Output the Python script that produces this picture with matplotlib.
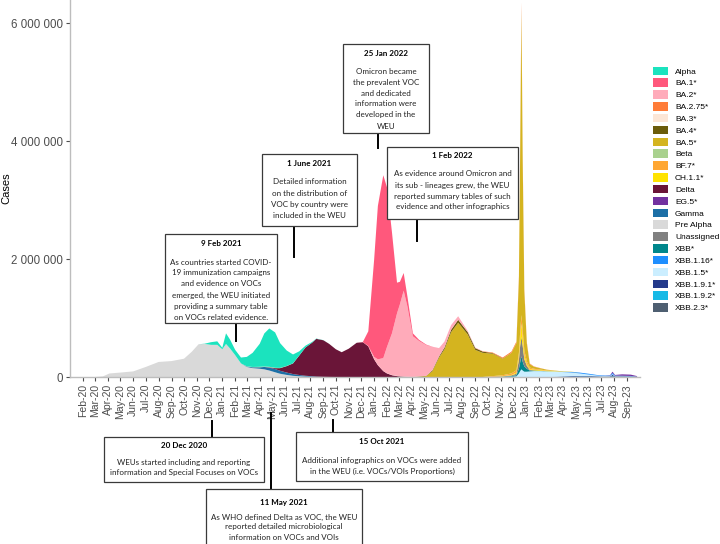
import datetime as dt
import matplotlib
matplotlib.use("Agg")
import matplotlib.pyplot as plt
import matplotlib.dates as mdates
from matplotlib.patches import Rectangle, Patch
from matplotlib.lines import Line2D
from matplotlib.ticker import FuncFormatter

# dates of the read-off points (irregular, denser around the peaks)
dates = [
    "2020-02-01", "2020-03-01", "2020-03-20", "2020-04-05", "2020-05-01", "2020-06-01",
    "2020-07-01", "2020-08-01", "2020-09-01", "2020-10-01", "2020-10-20", "2020-11-05",
    "2020-11-20", "2020-12-05", "2020-12-20",
    "2021-01-01", "2021-01-10", "2021-01-20", "2021-02-01", "2021-02-15", "2021-03-01",
    "2021-03-15", "2021-04-01", "2021-04-12", "2021-04-24", "2021-05-08", "2021-05-20",
    "2021-06-05", "2021-06-20", "2021-07-05", "2021-07-20", "2021-08-05", "2021-08-15",
    "2021-09-01", "2021-09-15", "2021-10-01", "2021-10-15", "2021-11-01", "2021-11-20",
    "2021-12-05", "2021-12-18",
    "2022-01-01", "2022-01-10", "2022-01-23", "2022-02-01", "2022-02-13", "2022-02-25",
    "2022-03-04", "2022-03-13", "2022-03-22", "2022-04-04", "2022-04-19", "2022-05-06",
    "2022-05-21", "2022-06-06", "2022-06-19", "2022-07-05", "2022-07-22", "2022-08-14",
    "2022-09-01", "2022-09-19", "2022-10-13", "2022-11-06", "2022-11-27", "2022-12-09",
    "2022-12-15", "2022-12-18", "2022-12-21", "2022-12-24", "2022-12-28",
    "2023-01-03", "2023-01-10", "2023-01-20", "2023-02-05", "2023-02-20", "2023-03-10",
    "2023-04-01", "2023-04-20", "2023-05-10", "2023-06-01", "2023-06-20", "2023-07-10",
    "2023-07-22", "2023-07-28", "2023-08-03", "2023-08-20", "2023-09-10", "2023-09-25",
]

# cases per variant, thousands
pre_alpha = [0, 0, 10, 60, 75, 95, 170, 255, 270, 310, 430, 555, 560, 545, 545, 470, 560,
             480, 370, 230, 170, 150, 140, 130, 110, 80, 55, 35, 20, 12, 6, 3, 1] + [0] * 55
alpha = [0] * 12 + [5, 45, 60, 25, 180, 150, 90, 100, 160, 240, 390, 560, 650, 600, 420,
                    260, 150, 70, 30, 12, 5, 2] + [0] * 54
gamma = [0] * 20 + [8, 15, 25, 40, 50, 55, 50, 40, 30, 22, 15, 10, 6, 3, 1] + [0] * 53
beta = [0] * 20 + [3, 5, 8, 8, 8, 6, 4, 3, 2, 1] + [0] * 58
delta = [0] * 24 + [5, 15, 45, 110, 180, 330, 480, 570, 640, 620, 560, 470, 420, 480, 580,
                    590, 520, 300, 200, 100, 60, 30, 15, 10, 5, 2] + [0] * 38
ba1 = [0] * 39 + [5, 250, 1650, 2600, 3100, 2700, 1700, 520, 380, 300, 170, 50, 20, 10,
                  3] + [0] * 34
ba2 = [0] * 40 + [5, 40, 100, 220, 450, 710, 1060, 1220, 1455, 1190, 690, 600, 520, 395,
                  140, 100, 80, 60, 20, 10, 3] + [0] * 27
ba3 = [0] * 44 + [2, 3, 4, 4, 3, 2, 1] + [0] * 37
ba4 = [0] * 51 + [5, 5, 15, 20, 30, 40, 50, 40, 30, 20, 10, 5] + [0] * 25
ba5 = [0] * 51 + [5, 15, 100, 330, 470, 760, 920, 720, 460, 410, 380, 280, 350, 460, 1250,
                  3060, 5170, 2900, 1000, 300, 60, 35, 22, 12, 6, 3, 2] + [0] * 10
ba275 = [0] * 60 + [5, 10, 15, 20, 25, 50, 100, 130, 100, 40, 20, 10, 5, 3, 1] + [0] * 13
bf7 = [0] * 61 + [10, 15, 25, 40, 60, 100, 150, 120, 80, 50, 25, 15, 10, 6, 3] + [0] * 12
ch11 = [0] * 62 + [5, 8, 20, 60, 140, 220, 150, 70, 30, 15, 12, 10, 8, 6, 4, 2] + [0] * 10
unassigned = [0] * 61 + [5, 5, 12, 25, 150, 280, 330, 270, 120, 50, 10, 5] + [0] * 15
xbb = [0] * 62 + [5, 10, 20, 80, 150, 220, 150, 90, 50, 15, 8, 5, 3] + [0] * 13
xbb15 = [0] * 63 + [5, 10, 60, 100, 130, 110, 90, 90, 95, 100, 100, 95, 90, 72, 60, 42, 22,
                    12, 7, 6, 12, 4, 3, 2, 1]
xbb116 = [0] * 75 + [2, 5, 10, 14, 14, 10, 8, 8, 22, 8, 7, 6, 2]
xbb191 = [0] * 75 + [3, 7, 10, 10, 10, 7, 5, 6, 18, 6, 5, 4, 2]
xbb192 = [0] * 76 + [4, 6, 6, 5, 3, 2, 2, 6, 2, 2, 2, 0]
xbb23 = [0] * 78 + [3, 4, 3, 2, 3, 12, 5, 5, 4, 2]
eg5 = [0] * 81 + [1, 5, 20, 10, 23, 22, 8]

# legend order (top of stack first)
variants = ["Alpha", "BA.1*", "BA.2*", "BA.2.75*", "BA.3*", "BA.4*", "BA.5*", "Beta", "BF.7*",
            "CH.1.1*", "Delta", "EG.5*", "Gamma", "Pre Alpha", "Unassigned", "XBB*",
            "XBB.1.16*", "XBB.1.5*", "XBB.1.9.1*", "XBB.1.9.2*", "XBB.2.3*"]
series = [alpha, ba1, ba2, ba275, ba3, ba4, ba5, beta, bf7, ch11, delta, eg5, gamma,
          pre_alpha, unassigned, xbb, xbb116, xbb15, xbb191, xbb192, xbb23]
colors = ["#1BE3BE", "#FF587C", "#FFABBA", "#FF7C38", "#FCE6D6", "#6B5C0B", "#D4B41F",
          "#A9D18E", "#FFA733", "#FFE300", "#6A1538", "#7231A0", "#1C6FA6", "#D9D9D9",
          "#808080", "#00878C", "#1E8FFF", "#CBEEFF", "#243A8B", "#17B9E6", "#4E5F71"]

x = [dt.datetime.strptime(d, "%Y-%m-%d") for d in dates]

fig = plt.figure(figsize=(7.2, 5.44), dpi=100)
ax = fig.add_axes([70 / 720, 1 - 377 / 544, (640 - 70) / 720, 377 / 544])

ax.stackplot(x, [[v * 1000 for v in s] for s in series[::-1]], colors=colors[::-1],
             linewidth=0, antialiased=True)

ax.set_xlim(dt.datetime(2020, 1, 1), dt.datetime(2023, 10, 2))
ax.set_ylim(0, 6.39e6)

ax.set_yticks([0, 2e6, 4e6, 6e6])
ax.yaxis.set_major_formatter(FuncFormatter(lambda v, p: f"{int(v):,}".replace(",", " ")))
month_ticks = [dt.datetime(2020 + (1 + i) // 12, (1 + i) % 12 + 1, 1) for i in range(44)]
ax.set_xticks(month_ticks)
ax.xaxis.set_major_formatter(mdates.DateFormatter("%b-%y"))

for lab in ax.get_xticklabels():
    lab.set_rotation(90)
ax.tick_params(axis="x", labelsize=7.5, colors="#4D4D4D", length=3, width=0.8, pad=2)
ax.tick_params(axis="y", labelsize=8.3, colors="#4D4D4D", length=3, width=0.8, pad=2)
for lab in ax.get_xticklabels() + ax.get_yticklabels():
    lab.set_fontfamily("Liberation Sans")

for side in ["top", "right"]:
    ax.spines[side].set_visible(False)
for side in ["left", "bottom"]:
    ax.spines[side].set_color("#BDBDBD")
    ax.spines[side].set_linewidth(1.0)

fig.text(6 / 720, 1 - 188 / 544, "Cases", rotation=90, ha="center", va="center",
         fontsize=8, family="Liberation Sans")

handles = [Patch(facecolor=c, edgecolor="none") for c in colors]
fig.legend(handles, variants, loc="upper left", bbox_to_anchor=(650 / 720, 1 - 64 / 544),
           frameon=False, handlelength=1.9, handleheight=1.2, labelspacing=0.33,
           handletextpad=0.8, borderaxespad=0, borderpad=0.3,
           prop={"family": "Liberation Sans", "size": 6})


def px(xp, yp):
    return xp / 720, 1 - yp / 544


def note(box, title, title_y, body, first_y, step=11):
    x0, y0, x1, y1 = box
    fig.add_artist(Rectangle(px(x0, y1), (x1 - x0) / 720, (y1 - y0) / 544,
                             transform=fig.transFigure, facecolor="white",
                             edgecolor="#3A3A3A", linewidth=0.9, zorder=5))
    cx = (x0 + x1) / 2
    fig.text(*px(cx, title_y), title, ha="center", va="center", fontsize=5.8,
             weight="bold", family="Lato", zorder=6)
    for i, line in enumerate(body.split("\n")):
        fig.text(*px(cx, first_y + i * step), line, ha="center", va="center",
                 fontsize=5.8, family="Lato", color="#222222", zorder=6)


def stick(xp, ya, yb):
    fig.add_artist(Line2D([xp / 720, xp / 720], [1 - ya / 544, 1 - yb / 544],
                          transform=fig.transFigure, color="black", linewidth=1.4))


note((165, 234, 277, 323), "9 Feb 2021", 244,
     "As countries started COVID-\n19 immunization campaigns\nand evidence on VOCs\n"
     "emerged, the WEU initiated\nproviding a summary table\non VOCs related evidence.", 262)
stick(236, 323, 341)

note((262, 154, 357, 226), "1 June 2021", 164,
     "Detailed information\non the distribution of\nVOC by country were\nincluded in the WEU", 182)
stick(294, 226, 257)

note((343, 44, 429, 133), "25 Jan 2022", 53,
     "Omicron became\nthe prevalent VOC\nand dedicated\ninformation were\ndeveloped in the\nWEU", 71)
stick(378, 133, 148)

note((387, 147, 518, 219), "1 Feb 2022", 156,
     "As evidence around Omicron and\nits sub - lineages grew, the WEU\n"
     "reported summary tables of such\nevidence and other infographics", 174)
stick(417, 219, 241)

note((104, 437, 264, 482), "20 Dec 2020", 446,
     "WEUs started including and reporting\ninformation and Special Focuses on VOCs", 462, 10)
stick(212, 421, 437)

note((206, 489, 362, 550), "11 May 2021", 502,
     "As WHO defined Delta as VOC, the WEU\nreported detailed microbiological\n"
     "information on VOCs and VOIs", 517, 10)
stick(271, 413, 489)

note((296, 432, 468, 481), "15 Oct 2021", 442,
     "Additional infographics on VOCs were added\nin the WEU (i.e. VOCs/VOIs Proportions)", 461, 10)
stick(333, 420, 432)

fig.savefig("out.png", dpi=100)
